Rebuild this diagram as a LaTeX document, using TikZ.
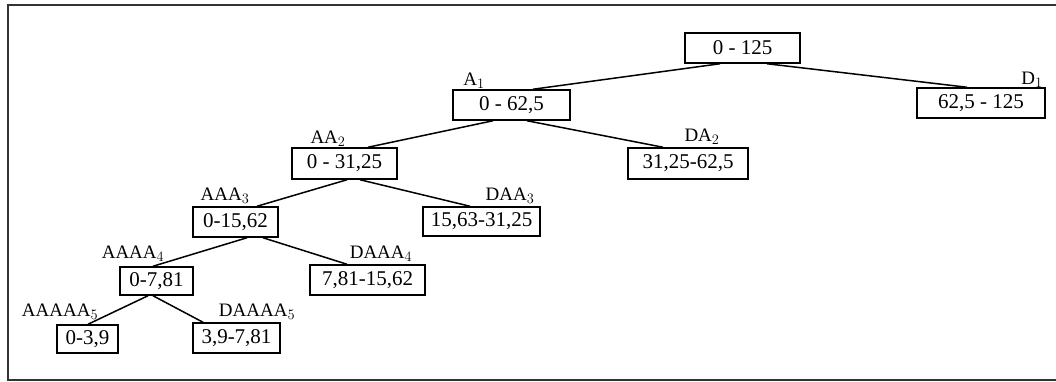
\documentclass[tikz,border=0pt]{standalone}
\usepackage{fontspec}
\setmainfont{Liberation Serif}
\usetikzlibrary{calc}
\tikzset{
  rng/.style={draw, line width=1.5pt, inner sep=0pt, font=\fontsize{21}{23}\selectfont},
  lbl/.style={inner sep=0pt, font=\fontsize{19}{21}\selectfont},
  edge/.style={line width=1.5pt},
  frame/.style={line width=2pt, draw=black!80}
}
\begin{document}
\begin{tikzpicture}[x=1pt,y=-1pt]
\useasboundingbox (0,0) rectangle (1056,382);
\draw[frame] (1060,5) -- (7.5,5) -- (7.5,380) -- (1060,380);
% boxes
\node[rng, minimum width=115pt, minimum height=30pt] (r) at (742.5,48) {0 - 125};
\node[rng, minimum width=128pt, minimum height=30pt] (d1) at (981,103) {62,5 - 125};
\node[rng, minimum width=117pt, minimum height=30pt] (a1) at (511.5,105) {0 - 62,5};
\node[rng, minimum width=120pt, minimum height=31pt] (da2) at (688,163.5) {31,25-62,5};
\node[rng, minimum width=105pt, minimum height=31pt] (aa2) at (344.5,163.5) {0 - 31,25};
\node[rng, minimum width=117pt, minimum height=29pt] (daa3) at (481.5,221.5) {15,63-31,25};
\node[rng, minimum width=85pt, minimum height=30pt] (aaa3) at (235.5,222) {0-15,62};
\node[rng, minimum width=115pt, minimum height=30pt] (daaa4) at (367.5,280) {7,81-15,62};
\node[rng, minimum width=73pt, minimum height=28pt] (aaaa4) at (156.5,281) {0-7,81};
\node[rng, minimum width=61pt, minimum height=28pt] (aaaaa5) at (87.5,339) {0-3,9};
\node[rng, minimum width=87pt, minimum height=30pt] (daaaa5) at (236.5,338) {3,9-7,81};
% labels
\node[lbl] (la1) at (474,81) {A$_1$};
\node[lbl] (ld1) at (1032,80) {D$_1$};
\node[lbl] (laa2) at (328,139) {AA$_2$};
\node[lbl] (lda2) at (702,137) {DA$_2$};
\node[lbl] (laaa3) at (225,196) {AAA$_3$};
\node[lbl] (ldaa3) at (510,196) {DAA$_3$};
\node[lbl] (laaaa4) at (133,254) {AAAA$_4$};
\node[lbl] (ldaaa4) at (381,254) {DAAA$_4$};
\node[lbl] (laaaaa5) at (60,312) {AAAAA$_5$};
\node[lbl] (ldaaaa5) at (257,312) {DAAAA$_5$};
% connectors
\draw[edge] ($(r.south)+(-22.5,0)$) -- ($(a1.north)+(21.5,0)$);
\draw[edge] ($(r.south)+(24.5,0)$) -- ($(d1.north)+(-14,0)$);
\draw[edge] ($(a1.south)+(-18.5,0)$) -- ($(aa2.north)+(23.5,0)$);
\draw[edge] ($(a1.south)+(15.5,0)$) -- ($(da2.north)+(-25,0)$);
\draw[edge] ($(aa2.south)+(2.5,0)$) -- ($(aaa3.north)+(21.5,0)$);
\draw[edge] ($(aa2.south)+(15.5,0)$) -- ($(daa3.north)+(-11.5,0)$);
\draw[edge] ($(aaa3.south)+(11.5,0)$) -- ($(aaaa4.north)+(-3.5,0)$);
\draw[edge] ($(aaa3.south)+(27.5,0)$) -- ($(daaa4.north)+(-20.5,0)$);
\draw[edge] ($(aaaa4.south)+(-8.5,0)$) -- ($(aaaaa5.north)+(0.5,0)$);
\draw[edge] ($(aaaa4.south)+(-3.5,0)$) -- ($(daaaa5.north)+(-33.5,0)$);
\end{tikzpicture}
\end{document}
